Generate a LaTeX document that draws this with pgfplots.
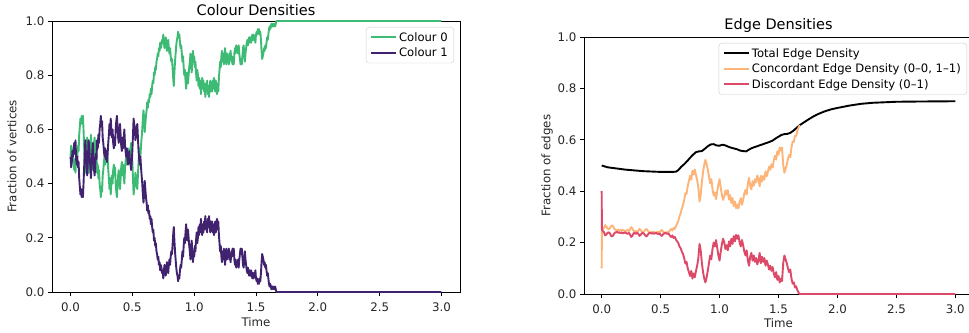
\documentclass[border=0pt]{standalone}
\usepackage{fontspec}
\setmainfont{DejaVu Sans}
\usepackage{pgfplots}
\pgfplotsset{compat=1.18}
\definecolor{cgreen}{RGB}{61,187,116}
\definecolor{cpurple}{RGB}{64,34,110}
\definecolor{corange}{RGB}{253,180,120}
\definecolor{cred}{RGB}{221,73,104}

\pgfplotsset{
  myaxis/.style={
    scale only axis,
    anchor=south west,
    xmin=-0.15, xmax=3.15, ymin=0, ymax=1,
    xtick={0,0.5,1,1.5,2,2.5,3},
    ytick={0,0.2,0.4,0.6,0.8,1},
    tick align=outside,
    xtick pos=bottom, ytick pos=left,
    major tick length=4pt,
    every tick/.style={black, line width=0.9pt},
    axis line style={line width=0.9pt},
    /pgf/number format/assume math mode=true,
    /pgf/number format/fixed, /pgf/number format/fixed zerofill, /pgf/number format/precision=1,
    tick label style={font=\fontsize{11.8}{14}\selectfont, text=black!85},
    xticklabel style={yshift=-3pt},
    label style={font=\fontsize{11.8}{14}\selectfont, text=black!85},
    every axis title shift=0pt,
    title style={font=\fontsize{14.5}{16}\selectfont, anchor=center},
    legend cell align=left,
    legend style={at={(1,1)}, anchor=north east, xshift=-6pt, yshift=-6pt,
      draw=black!20, rounded corners=3pt, fill=white, fill opacity=0.8, draw opacity=1, text opacity=1,
      font=\fontsize{11.6}{14}\selectfont, row sep=1.2pt, inner xsep=4pt, inner ysep=3pt},
    legend image code/.code={\draw[#1, line width=2pt, opacity=1] (0pt,0pt) -- (25pt,0pt);},
    every axis plot/.append style={line width=1.9pt, line join=round},
  }
}

\begin{document}
\begin{tikzpicture}
\begin{axis}[myaxis,
  at={(52pt,40pt)}, width=408pt, height=271pt,
  title={Colour Densities},
  title style={at={(axis description cs:0.5,1.042)}},
  xlabel={Time}, ylabel={Fraction of vertices},
  xlabel style={at={(axis description cs:0.5,-0.111)}, anchor=center},
  ylabel style={at={(axis description cs:-0.098,0.5)}, anchor=center, rotate=0},
]
\pgfplotstableread{
t p g
0.000 0.50 0.50
0.005 0.46 0.54
0.010 0.48 0.52
0.015 0.52 0.48
0.020 0.50 0.50
0.025 0.53 0.47
0.030 0.55 0.45
0.035 0.51 0.49
0.040 0.56 0.44
0.045 0.49 0.51
0.050 0.47 0.53
0.055 0.50 0.50
0.060 0.46 0.54
0.065 0.48 0.52
0.070 0.42 0.58
0.075 0.39 0.61
0.080 0.36 0.64
0.085 0.38 0.62
0.090 0.35 0.65
0.095 0.37 0.63
0.100 0.35 0.65
0.105 0.40 0.60
0.110 0.46 0.54
0.115 0.52 0.48
0.120 0.56 0.44
0.125 0.50 0.50
0.130 0.46 0.54
0.135 0.43 0.57
0.140 0.48 0.52
0.145 0.56 0.44
0.150 0.55 0.45
0.155 0.50 0.50
0.160 0.46 0.54
0.165 0.42 0.58
0.170 0.47 0.53
0.175 0.51 0.49
0.180 0.55 0.45
0.185 0.49 0.51
0.190 0.45 0.55
0.195 0.43 0.57
0.200 0.47 0.53
0.205 0.51 0.49
0.210 0.49 0.51
0.215 0.56 0.44
0.220 0.53 0.47
0.225 0.58 0.42
0.230 0.55 0.45
0.235 0.60 0.40
0.240 0.62 0.38
0.245 0.65 0.35
0.250 0.61 0.39
0.255 0.63 0.37
0.260 0.57 0.43
0.265 0.55 0.45
0.270 0.52 0.48
0.275 0.50 0.50
0.280 0.53 0.47
0.285 0.49 0.51
0.290 0.52 0.48
0.295 0.48 0.52
0.300 0.51 0.49
0.305 0.55 0.45
0.310 0.58 0.42
0.315 0.62 0.38
0.320 0.58 0.42
0.325 0.64 0.36
0.330 0.60 0.40
0.335 0.57 0.43
0.340 0.60 0.40
0.345 0.55 0.45
0.350 0.53 0.47
0.355 0.57 0.43
0.360 0.54 0.46
0.365 0.60 0.40
0.370 0.63 0.37
0.375 0.65 0.35
0.380 0.61 0.39
0.385 0.57 0.43
0.390 0.55 0.45
0.395 0.60 0.40
0.400 0.62 0.38
0.405 0.58 0.42
0.410 0.54 0.46
0.415 0.52 0.48
0.420 0.57 0.43
0.425 0.53 0.47
0.430 0.56 0.44
0.435 0.60 0.40
0.440 0.55 0.45
0.445 0.52 0.48
0.450 0.50 0.50
0.455 0.53 0.47
0.460 0.49 0.51
0.465 0.47 0.53
0.470 0.50 0.50
0.475 0.52 0.48
0.480 0.49 0.51
0.485 0.47 0.53
0.490 0.45 0.55
0.495 0.48 0.52
0.500 0.52 0.48
0.505 0.58 0.42
0.510 0.64 0.36
0.515 0.62 0.38
0.520 0.60 0.40
0.525 0.56 0.44
0.530 0.58 0.42
0.535 0.61 0.39
0.540 0.62 0.38
0.545 0.57 0.43
0.550 0.52 0.48
0.555 0.49 0.51
0.560 0.47 0.53
0.565 0.50 0.50
0.570 0.46 0.54
0.575 0.43 0.57
0.580 0.40 0.60
0.585 0.36 0.64
0.590 0.33 0.67
0.595 0.36 0.64
0.600 0.41 0.59
0.605 0.38 0.62
0.610 0.35 0.65
0.615 0.33 0.67
0.620 0.30 0.70
0.625 0.32 0.68
0.630 0.29 0.71
0.635 0.30 0.70
0.640 0.27 0.73
0.645 0.28 0.72
0.650 0.25 0.75
0.655 0.27 0.73
0.660 0.24 0.76
0.665 0.22 0.78
0.670 0.23 0.77
0.675 0.19 0.81
0.680 0.20 0.80
0.685 0.17 0.83
0.690 0.18 0.82
0.695 0.15 0.85
0.700 0.14 0.86
0.705 0.12 0.88
0.710 0.13 0.87
0.715 0.10 0.90
0.720 0.11 0.89
0.725 0.08 0.92
0.730 0.10 0.90
0.735 0.09 0.91
0.740 0.07 0.93
0.745 0.08 0.92
0.750 0.05 0.95
0.755 0.08 0.92
0.760 0.10 0.90
0.765 0.08 0.92
0.770 0.06 0.94
0.775 0.09 0.91
0.780 0.11 0.89
0.785 0.08 0.92
0.790 0.07 0.93
0.795 0.10 0.90
0.800 0.12 0.88
0.805 0.10 0.90
0.810 0.13 0.87
0.815 0.15 0.85
0.820 0.14 0.86
0.825 0.17 0.83
0.830 0.21 0.79
0.835 0.24 0.76
0.840 0.19 0.81
0.845 0.15 0.85
0.850 0.12 0.88
0.855 0.09 0.91
0.860 0.07 0.93
0.865 0.06 0.94
0.870 0.04 0.96
0.875 0.06 0.94
0.880 0.05 0.95
0.885 0.08 0.92
0.890 0.10 0.90
0.895 0.09 0.91
0.900 0.12 0.88
0.905 0.15 0.85
0.910 0.13 0.87
0.915 0.17 0.83
0.920 0.20 0.80
0.925 0.18 0.82
0.930 0.22 0.78
0.935 0.25 0.75
0.940 0.21 0.79
0.945 0.19 0.81
0.950 0.23 0.77
0.955 0.20 0.80
0.960 0.17 0.83
0.965 0.15 0.85
0.970 0.12 0.88
0.975 0.16 0.84
0.980 0.19 0.81
0.985 0.14 0.86
0.990 0.11 0.89
0.995 0.15 0.85
1.000 0.13 0.87
1.005 0.17 0.83
1.010 0.15 0.85
1.015 0.19 0.81
1.020 0.22 0.78
1.025 0.18 0.82
1.030 0.20 0.80
1.035 0.24 0.76
1.040 0.21 0.79
1.045 0.25 0.75
1.050 0.22 0.78
1.055 0.27 0.73
1.060 0.23 0.77
1.065 0.21 0.79
1.070 0.25 0.75
1.075 0.22 0.78
1.080 0.26 0.74
1.085 0.24 0.76
1.090 0.28 0.72
1.095 0.23 0.77
1.100 0.26 0.74
1.105 0.22 0.78
1.110 0.27 0.73
1.115 0.24 0.76
1.120 0.28 0.72
1.125 0.25 0.75
1.130 0.22 0.78
1.135 0.26 0.74
1.140 0.23 0.77
1.145 0.26 0.74
1.150 0.22 0.78
1.155 0.25 0.75
1.160 0.21 0.79
1.165 0.24 0.76
1.170 0.26 0.74
1.175 0.22 0.78
1.180 0.25 0.75
1.185 0.27 0.73
1.190 0.23 0.77
1.195 0.26 0.74
1.200 0.21 0.79
1.205 0.18 0.82
1.210 0.15 0.85
1.215 0.17 0.83
1.220 0.13 0.87
1.225 0.11 0.89
1.230 0.15 0.85
1.235 0.12 0.88
1.240 0.16 0.84
1.245 0.13 0.87
1.250 0.10 0.90
1.255 0.14 0.86
1.260 0.16 0.84
1.265 0.12 0.88
1.270 0.15 0.85
1.275 0.13 0.87
1.280 0.16 0.84
1.285 0.12 0.88
1.290 0.14 0.86
1.295 0.11 0.89
1.300 0.15 0.85
1.305 0.13 0.87
1.310 0.16 0.84
1.315 0.14 0.86
1.320 0.16 0.84
1.325 0.12 0.88
1.330 0.10 0.90
1.335 0.12 0.88
1.340 0.09 0.91
1.345 0.11 0.89
1.350 0.10 0.90
1.355 0.12 0.88
1.360 0.09 0.91
1.365 0.12 0.88
1.370 0.14 0.86
1.375 0.16 0.84
1.380 0.14 0.86
1.385 0.16 0.84
1.390 0.13 0.87
1.395 0.10 0.90
1.400 0.09 0.91
1.405 0.12 0.88
1.410 0.15 0.85
1.415 0.12 0.88
1.420 0.10 0.90
1.425 0.08 0.92
1.430 0.07 0.93
1.435 0.09 0.91
1.440 0.07 0.93
1.445 0.06 0.94
1.450 0.08 0.92
1.455 0.06 0.94
1.460 0.08 0.92
1.465 0.07 0.93
1.470 0.05 0.95
1.475 0.07 0.93
1.480 0.05 0.95
1.485 0.07 0.93
1.490 0.06 0.94
1.495 0.08 0.92
1.500 0.05 0.95
1.505 0.04 0.96
1.510 0.05 0.95
1.515 0.03 0.97
1.520 0.04 0.96
1.525 0.03 0.97
1.530 0.05 0.95
1.535 0.04 0.96
1.540 0.07 0.93
1.545 0.11 0.89
1.550 0.14 0.86
1.555 0.13 0.87
1.560 0.12 0.88
1.565 0.10 0.90
1.570 0.11 0.89
1.575 0.09 0.91
1.580 0.10 0.90
1.585 0.08 0.92
1.590 0.06 0.94
1.595 0.07 0.93
1.600 0.05 0.95
1.605 0.03 0.97
1.610 0.02 0.98
1.615 0.03 0.97
1.620 0.02 0.98
1.625 0.01 0.99
1.630 0.02 0.98
1.635 0.02 0.98
1.640 0.01 0.99
1.645 0.02 0.98
1.650 0.01 0.99
1.655 0.02 0.98
1.660 0.01 0.99
1.665 0.00 1.00
3.000 0.00 1.00
}\colourtable
\addplot[cgreen] table[x=t, y=g] {\colourtable};
\addlegendentry{Colour 0}
\addplot[cpurple] table[x=t, y=p] {\colourtable};
\addlegendentry{Colour 1}
\end{axis}

\begin{axis}[myaxis,
  at={(584pt,38pt)}, width=389pt, height=257pt,
  title={Edge Densities},
  title style={at={(axis description cs:0.5,1.045)}},
  xlabel={Time}, ylabel={Fraction of edges},
  xlabel style={at={(axis description cs:0.5,-0.112)}, anchor=center},
  ylabel style={at={(axis description cs:-0.095,0.5)}, anchor=center, rotate=0},
]
\addplot[black] table[x=t, y=v] {
t v
0.00 0.500
0.05 0.493
0.10 0.490
0.15 0.487
0.20 0.484
0.25 0.482
0.30 0.480
0.35 0.478
0.40 0.477
0.45 0.476
0.50 0.475
0.55 0.475
0.60 0.475
0.63 0.476
0.65 0.482
0.675 0.495
0.70 0.505
0.725 0.517
0.75 0.530
0.775 0.542
0.80 0.552
0.825 0.555
0.85 0.556
0.875 0.565
0.90 0.575
0.925 0.582
0.95 0.583
0.975 0.578
1.00 0.577
1.025 0.581
1.05 0.578
1.075 0.573
1.10 0.569
1.125 0.566
1.15 0.563
1.175 0.558
1.20 0.556
1.225 0.555
1.25 0.562
1.275 0.568
1.30 0.572
1.325 0.576
1.35 0.580
1.375 0.584
1.40 0.588
1.425 0.592
1.45 0.597
1.475 0.605
1.50 0.612
1.525 0.619
1.55 0.622
1.575 0.623
1.60 0.627
1.625 0.635
1.65 0.645
1.675 0.655
1.70 0.663
1.75 0.678
1.80 0.692
1.85 0.703
1.90 0.712
1.95 0.719
2.00 0.724
2.10 0.733
2.20 0.740
2.30 0.744
2.40 0.746
2.50 0.748
2.70 0.749
3.00 0.750
};
\addlegendentry{Total Edge Density}
\pgfplotstableread{
t c d
0.000 0.100 0.400
0.002 0.250 0.250
0.01 0.253 0.245
0.02 0.257 0.240
0.03 0.268 0.228
0.04 0.262 0.232
0.05 0.255 0.238
0.06 0.252 0.240
0.07 0.256 0.236
0.08 0.265 0.226
0.09 0.267 0.224
0.10 0.260 0.230
0.11 0.252 0.238
0.12 0.249 0.240
0.13 0.247 0.242
0.14 0.250 0.238
0.15 0.247 0.240
0.16 0.250 0.237
0.17 0.246 0.240
0.18 0.249 0.236
0.19 0.247 0.238
0.20 0.244 0.240
0.21 0.248 0.236
0.22 0.249 0.234
0.23 0.245 0.238
0.24 0.251 0.232
0.25 0.260 0.222
0.26 0.256 0.226
0.27 0.246 0.236
0.28 0.243 0.238
0.29 0.246 0.234
0.30 0.242 0.238
0.31 0.245 0.235
0.32 0.253 0.226
0.33 0.249 0.230
0.34 0.242 0.236
0.35 0.240 0.238
0.36 0.244 0.234
0.37 0.249 0.228
0.38 0.253 0.224
0.39 0.247 0.230
0.40 0.241 0.236
0.41 0.239 0.238
0.42 0.241 0.235
0.43 0.239 0.237
0.44 0.242 0.234
0.45 0.240 0.236
0.46 0.238 0.238
0.47 0.241 0.235
0.48 0.242 0.233
0.49 0.239 0.236
0.50 0.245 0.230
0.51 0.249 0.226
0.52 0.243 0.232
0.53 0.239 0.236
0.54 0.237 0.238
0.55 0.241 0.234
0.56 0.239 0.236
0.57 0.242 0.233
0.58 0.249 0.226
0.59 0.253 0.222
0.60 0.247 0.228
0.61 0.257 0.218
0.62 0.253 0.222
0.63 0.264 0.212
0.64 0.274 0.205
0.65 0.284 0.198
0.66 0.302 0.185
0.67 0.314 0.178
0.68 0.332 0.165
0.69 0.346 0.155
0.70 0.365 0.140
0.71 0.392 0.118
0.72 0.390 0.125
0.73 0.420 0.100
0.74 0.440 0.085
0.75 0.460 0.070
0.76 0.445 0.090
0.77 0.480 0.060
0.78 0.465 0.080
0.79 0.484 0.065
0.80 0.462 0.090
0.81 0.443 0.110
0.82 0.414 0.140
0.83 0.360 0.195
0.84 0.385 0.170
0.85 0.436 0.120
0.86 0.475 0.085
0.87 0.503 0.060
0.88 0.522 0.045
0.89 0.506 0.065
0.90 0.485 0.090
0.91 0.458 0.120
0.92 0.431 0.150
0.93 0.447 0.135
0.94 0.408 0.175
0.95 0.383 0.200
0.96 0.396 0.185
0.97 0.369 0.210
0.98 0.398 0.180
0.99 0.427 0.150
1.00 0.447 0.130
1.01 0.413 0.165
1.02 0.385 0.195
1.03 0.366 0.215
1.04 0.380 0.200
1.05 0.403 0.175
1.06 0.386 0.190
1.07 0.404 0.170
1.08 0.367 0.205
1.09 0.385 0.185
1.10 0.354 0.215
1.11 0.373 0.195
1.12 0.342 0.225
1.13 0.360 0.205
1.14 0.334 0.230
1.15 0.348 0.215
1.16 0.333 0.228
1.17 0.359 0.200
1.18 0.373 0.185
1.19 0.347 0.210
1.20 0.366 0.190
1.21 0.391 0.165
1.22 0.405 0.150
1.23 0.387 0.170
1.24 0.430 0.130
1.25 0.452 0.110
1.26 0.420 0.145
1.27 0.407 0.160
1.28 0.439 0.130
1.29 0.421 0.150
1.30 0.447 0.125
1.31 0.434 0.140
1.32 0.461 0.115
1.33 0.448 0.130
1.34 0.419 0.160
1.35 0.460 0.120
1.36 0.437 0.145
1.37 0.459 0.125
1.38 0.445 0.140
1.39 0.477 0.110
1.40 0.458 0.130
1.41 0.475 0.115
1.42 0.496 0.095
1.43 0.483 0.110
1.44 0.505 0.090
1.45 0.492 0.105
1.46 0.520 0.080
1.47 0.538 0.065
1.48 0.523 0.085
1.49 0.555 0.055
1.50 0.542 0.070
1.51 0.570 0.045
1.52 0.558 0.060
1.53 0.570 0.050
1.54 0.501 0.120
1.55 0.472 0.150
1.56 0.488 0.135
1.57 0.503 0.120
1.58 0.524 0.100
1.59 0.541 0.085
1.60 0.532 0.095
1.61 0.570 0.060
1.62 0.593 0.040
1.63 0.592 0.045
1.64 0.616 0.025
1.65 0.615 0.030
1.66 0.634 0.015
1.67 0.648 0.005
1.68 0.657 0.000
}\edgetable
\addplot[corange] table[x=t, y=c] {\edgetable};
\addlegendentry{Concordant Edge Density (0--0, 1--1)}
\addplot[cred] table[x=t, y=d] {
t d
0.000 0.400
0.002 0.250
0.01 0.245
0.02 0.240
0.03 0.228
0.04 0.232
0.05 0.238
0.06 0.240
0.07 0.236
0.08 0.226
0.09 0.224
0.10 0.230
0.11 0.238
0.12 0.240
0.13 0.242
0.14 0.238
0.15 0.240
0.16 0.237
0.17 0.240
0.18 0.236
0.19 0.238
0.20 0.240
0.21 0.236
0.22 0.234
0.23 0.238
0.24 0.232
0.25 0.222
0.26 0.226
0.27 0.236
0.28 0.238
0.29 0.234
0.30 0.238
0.31 0.235
0.32 0.226
0.33 0.230
0.34 0.236
0.35 0.238
0.36 0.234
0.37 0.228
0.38 0.224
0.39 0.230
0.40 0.236
0.41 0.238
0.42 0.235
0.43 0.237
0.44 0.234
0.45 0.236
0.46 0.238
0.47 0.235
0.48 0.233
0.49 0.236
0.50 0.230
0.51 0.226
0.52 0.232
0.53 0.236
0.54 0.238
0.55 0.234
0.56 0.236
0.57 0.233
0.58 0.226
0.59 0.222
0.60 0.228
0.61 0.218
0.62 0.222
0.63 0.212
0.64 0.205
0.65 0.198
0.66 0.185
0.67 0.178
0.68 0.165
0.69 0.155
0.70 0.140
0.71 0.118
0.72 0.125
0.73 0.100
0.74 0.085
0.75 0.070
0.76 0.090
0.77 0.060
0.78 0.080
0.79 0.065
0.80 0.090
0.81 0.110
0.82 0.140
0.83 0.195
0.84 0.170
0.85 0.120
0.86 0.085
0.87 0.060
0.88 0.045
0.89 0.065
0.90 0.090
0.91 0.120
0.92 0.150
0.93 0.135
0.94 0.175
0.95 0.200
0.96 0.185
0.97 0.210
0.98 0.180
0.99 0.150
1.00 0.130
1.01 0.165
1.02 0.195
1.03 0.215
1.04 0.200
1.05 0.175
1.06 0.190
1.07 0.170
1.08 0.205
1.09 0.185
1.10 0.215
1.11 0.195
1.12 0.225
1.13 0.205
1.14 0.230
1.15 0.215
1.16 0.228
1.17 0.200
1.18 0.185
1.19 0.210
1.20 0.190
1.21 0.165
1.22 0.150
1.23 0.170
1.24 0.130
1.25 0.110
1.26 0.145
1.27 0.160
1.28 0.130
1.29 0.150
1.30 0.125
1.31 0.140
1.32 0.115
1.33 0.130
1.34 0.160
1.35 0.120
1.36 0.145
1.37 0.125
1.38 0.140
1.39 0.110
1.40 0.130
1.41 0.115
1.42 0.095
1.43 0.110
1.44 0.090
1.45 0.105
1.46 0.080
1.47 0.065
1.48 0.085
1.49 0.055
1.50 0.070
1.51 0.045
1.52 0.060
1.53 0.050
1.54 0.120
1.55 0.150
1.56 0.135
1.57 0.120
1.58 0.100
1.59 0.085
1.60 0.095
1.61 0.060
1.62 0.040
1.63 0.045
1.64 0.025
1.65 0.030
1.66 0.015
1.67 0.005
1.68 0.000
3.00 0.000
};
\addlegendentry{Discordant Edge Density (0--1)}
\end{axis}
\pgfresetboundingbox
\useasboundingbox (0pt,0pt) rectangle (969pt,332pt);
\end{tikzpicture}
\end{document}
